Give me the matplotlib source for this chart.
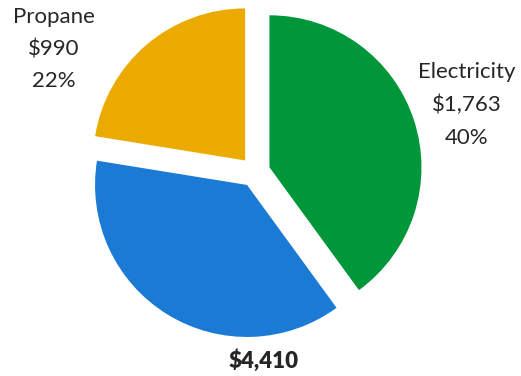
import matplotlib.pyplot as plt

# slice data (clockwise from 12 o'clock)
names = ["Electricity", "Other", "Propane"]
costs = [1763, 1657, 990]
colors = ["#00963A", "#1A7AD4", "#EAAA00"]
total = sum(costs)

plt.rcParams['font.family'] = ['Lato', 'DejaVu Sans']

fig = plt.figure(figsize=(5.21, 3.76), dpi=100)
ax = fig.add_axes([0, 0, 1, 1])

ax.pie(costs, colors=colors, startangle=90, counterclock=False,
       explode=[0.1, 0.1, 0.1], radius=1.0,
       wedgeprops=dict(linewidth=0))

# one data unit = 152 px, pie centre at pixel (255, 172)
r_px = 152.0
cx, cy = 255.0, 172.0
ax.set_xlim(-cx / r_px, (521 - cx) / r_px)
ax.set_ylim(-(376 - cy) / r_px, cy / r_px)
ax.set_aspect('auto')
ax.axis('off')

def lab(i):
    return "{}\n${:,}\n{:.0f}%".format(names[i], costs[i], 100 * costs[i] / total)

fig.text(54 / 521, 1 - 49 / 376, lab(2), ha='center', va='center',
         fontsize=16, color='#262626', linespacing=1.78)
fig.text(467 / 521, 1 - 105 / 376, lab(0), ha='center', va='center',
         fontsize=16, color='#262626', linespacing=1.78)
fig.text(264 / 521, 1 - 361 / 376, "${:,}".format(total), ha='center', va='center',
         fontsize=16, fontweight='heavy', color='#262626')

fig.savefig("out.png", dpi=100)
